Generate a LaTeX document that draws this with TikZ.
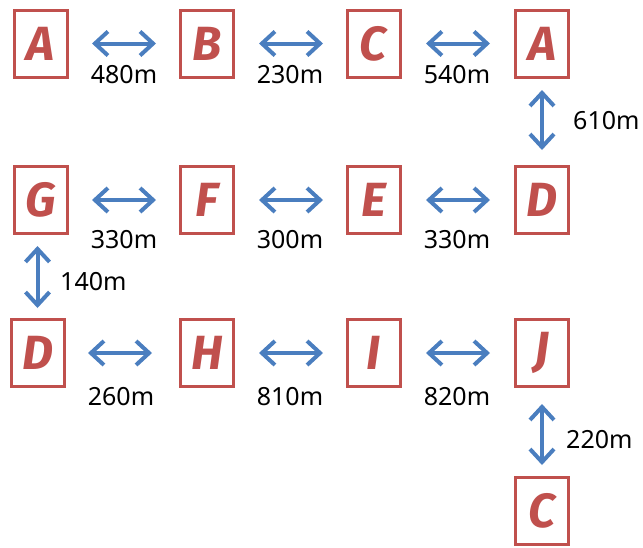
\documentclass[tikz,border=0pt]{standalone}
\usepackage{fontspec}
\setmainfont{Noto Sans}
\newfontfamily\letterfont{Fira Sans}
\usetikzlibrary{arrows.meta}
\definecolor{boxred}{HTML}{C0504D}
\definecolor{arrowblue}{HTML}{4A7EBF}
\begin{document}
\begin{tikzpicture}[x=1pt,y=-1pt,
  site/.style={draw=boxred,line width=3pt,minimum width=53pt,minimum height=67pt,inner sep=0pt,
    text=boxred,font=\letterfont\bfseries\itshape\fontsize{48}{48}\selectfont},
  link/.style={draw=arrowblue,line width=4pt,{Straight Barb[length=13pt,width=24pt,line width=4pt]}-{Straight Barb[length=13pt,width=24pt,line width=4pt]}},
  dist/.style={font=\fontsize{25}{25}\selectfont,inner sep=0pt}]
\useasboundingbox (0,0) rectangle (643,547);
% row 1
\node[site] (a1) at (40.5,43.5) {A};
\node[site] (b) at (207,43.5) {B};
\node[site] (c1) at (373.5,43.5) {C};
\node[site] (a2) at (542,43.5) {A};
% row 2
\node[site] (g) at (40.5,200) {G};
\node[site] (f) at (207,200) {F};
\node[site] (e) at (373.5,200) {E};
\node[site] (d1) at (542,200) {D};
% row 3
\node[site] (d2) at (37.5,353) {D};
\node[site] (h) at (207,353) {H};
\node[site] (i) at (373.5,353) {I};
\node[site] (j) at (542,353) {J};
% row 4
\node[site] (c2) at (542,511) {C};
% horizontal arrows
\coordinate (p1a) at (92,43.5); \coordinate (p1b) at (156,43.5);
\coordinate (p2a) at (259,43.5); \coordinate (p2b) at (323,43.5);
\coordinate (p3a) at (426,43.5); \coordinate (p3b) at (490,43.5);
\draw[link] (p1a) -- (p1b);
\draw[link] (p2a) -- (p2b);
\draw[link] (p3a) -- (p3b);
\node[dist] (l1) at (124,75) {480m};
\node[dist] (l2) at (290,75) {230m};
\node[dist] (l3) at (457,75) {540m};
% vertical 610
\coordinate (v1a) at (542,90); \coordinate (v1b) at (542,150);
\draw[link] (v1a) -- (v1b);
\node[dist,anchor=west] (l4) at (573,121) {610m};
% row 2 arrows
\coordinate (q1a) at (92,200); \coordinate (q1b) at (156,200);
\coordinate (q2a) at (259,200); \coordinate (q2b) at (323,200);
\coordinate (q3a) at (426,200); \coordinate (q3b) at (490,200);
\draw[link] (q1a) -- (q1b);
\draw[link] (q2a) -- (q2b);
\draw[link] (q3a) -- (q3b);
\node[dist] (l5) at (124,240) {330m};
\node[dist] (l6) at (290,240) {300m};
\node[dist] (l7) at (457,240) {330m};
% vertical 140
\coordinate (v2a) at (37.5,246); \coordinate (v2b) at (37.5,308);
\draw[link] (v2a) -- (v2b);
\node[dist,anchor=west] (l8) at (60,282) {140m};
% row 3 arrows
\coordinate (r1a) at (88,353); \coordinate (r1b) at (152,353);
\coordinate (r2a) at (259,353); \coordinate (r2b) at (323,353);
\coordinate (r3a) at (426,353); \coordinate (r3b) at (490,353);
\draw[link] (r1a) -- (r1b);
\draw[link] (r2a) -- (r2b);
\draw[link] (r3a) -- (r3b);
\node[dist] (l9) at (121,397) {260m};
\node[dist] (l10) at (290,397) {810m};
\node[dist] (l11) at (457,397) {820m};
% vertical 220
\coordinate (v3a) at (542,404); \coordinate (v3b) at (542,465);
\draw[link] (v3a) -- (v3b);
\node[dist,anchor=west] (l12) at (566,440) {220m};
\end{tikzpicture}
\end{document}
